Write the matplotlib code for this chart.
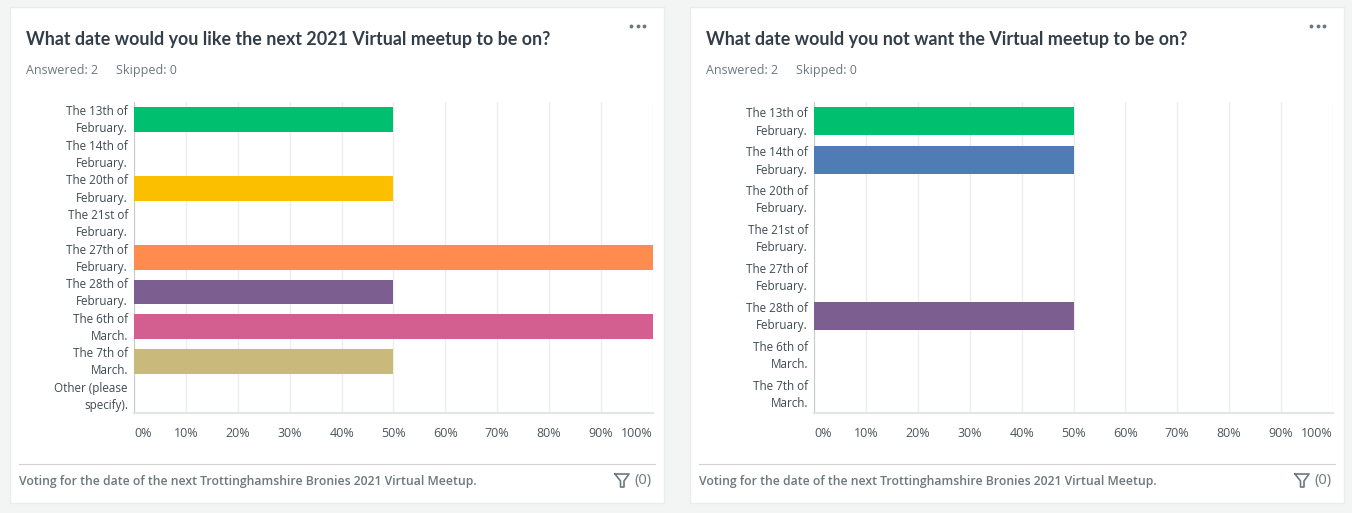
import matplotlib
matplotlib.use("Agg")
import matplotlib.pyplot as plt
from matplotlib.patches import Rectangle
from matplotlib.transforms import ScaledTranslation

W, H = 1352, 513

# left chart
left_title = "What date would you like the next 2021 Virtual meetup to be on?"
left_labels = ["The 13th of\nFebruary.", "The 14th of\nFebruary.", "The 20th of\nFebruary.",
               "The 21st of\nFebruary.", "The 27th of\nFebruary.", "The 28th of\nFebruary.",
               "The 6th of\nMarch.", "The 7th of\nMarch.", "Other (please\nspecify)."]
left_values = [50, 0, 50, 0, 100, 50, 100, 50, 0]
left_colors = ["#00bf6f", "#507cb6", "#fbbf00", "#6bc8cd", "#ff8b4f", "#7d5e90", "#d25f90", "#c9b97a", "#a0a0a0"]

# right chart
right_title = "What date would you not want the Virtual meetup to be on?"
right_labels = left_labels[:8]
right_values = [50, 50, 0, 0, 0, 50, 0, 0]
right_colors = left_colors[:8]

answered = "Answered: 2"
skipped = "Skipped: 0"
footer = "Voting for the date of the next Trottinghamshire Bronies 2021 Virtual Meetup."
xticks = list(range(0, 101, 10))

FONT = "Open Sans"
TITLE_FONT = "Lato"
DARK = "#333e48"
GREY = "#6b787f"


def add_axes_px(fig, x0, y0, x1, y1):
    # pixel box, y counted from the top
    return fig.add_axes([x0 / W, 1 - y1 / H, (x1 - x0) / W, (y1 - y0) / H])


def draw_chrome(bg, dx, title):
    bg.add_patch(Rectangle((10 + dx, 7), 654, 496, fc="white", ec="#e9ecec", lw=1))
    bg.text(26 + dx, 39.5, title, fontsize=12.85, fontweight="bold", color=DARK, va="center", family=TITLE_FONT)
    bg.text(26 + dx, 70.5, answered, fontsize=9, color=GREY, va="center", family=FONT)
    bg.text(116 + dx, 70.5, skipped, fontsize=9, color=GREY, va="center", family=FONT)
    for px in (631, 637.5, 644):
        bg.plot(px + dx, 26, "o", ms=2.8, color="#6b787f", mew=0)
    bg.plot([19 + dx, 655 + dx], [463.5, 463.5], color="#d0d2d3", lw=0.8)
    bg.text(19 + dx, 481.5, footer, fontsize=8.85, fontweight="semibold", color=GREY, va="center", family=FONT)
    # filter funnel icon
    bg.plot(
        [615 + dx, 629 + dx, 624 + dx, 624 + dx, 620.5 + dx, 620.5 + dx, 615 + dx],
        [474, 474, 481, 487, 487, 481, 474],
        color=GREY, lw=1.2,
    )
    bg.text(634 + dx, 480.5, "(0)", fontsize=10.5, color=GREY, va="center", family=FONT)


def draw_bars(fig, dx, labels, values, colors, bar_h):
    ax = add_axes_px(fig, 134.2 + dx, 102, 652.8 + dx, 413)
    pos = list(range(len(labels)))
    ax.barh(pos, values, height=bar_h, color=colors, zorder=3)
    ax.set_xlim(0, 100)
    ax.set_ylim(len(labels) - 0.5, -0.5)
    ax.set_xticks(xticks)
    ax.set_xticklabels([f"{t}%" for t in xticks], fontsize=9, color="#4a555c", family=FONT)
    ax.set_yticks(pos)
    ax.set_yticklabels(labels, fontsize=8.4, color="#3f4a52", family=FONT, linespacing=1.42, ha="right")
    ax.tick_params(axis="both", length=0)
    ax.tick_params(axis="x", pad=10)
    ax.tick_params(axis="y", pad=4.5)
    ticks = ax.get_xticklabels()
    ticks[0].set_ha("left")
    ticks[-1].set_ha("right")
    # nudge the two line labels up so they sit on the bar centre
    nudge = ScaledTranslation(0, 2.5 / 100, fig.dpi_scale_trans)
    for lab in ax.get_yticklabels():
        lab.set_transform(lab.get_transform() + nudge)
    ax.grid(axis="x", color="#eeeeee", lw=1, zorder=0)
    ax.set_axisbelow(True)
    for side in ("top", "right"):
        ax.spines[side].set_visible(False)
    ax.spines["left"].set_color("#c8cbcc")
    ax.spines["bottom"].set_color("#e3e4e5")
    ax.spines["bottom"].set_linewidth(1.6)
    return ax


fig = plt.figure(figsize=(W / 100, H / 100), dpi=100, facecolor="#f3f5f5")
bg = fig.add_axes([0, 0, 1, 1])
bg.set_xlim(0, W)
bg.set_ylim(H, 0)
bg.axis("off")

draw_chrome(bg, 0, left_title)
draw_chrome(bg, 680, right_title)
draw_bars(fig, 0, left_labels, left_values, left_colors, 0.72)
draw_bars(fig, 680, right_labels, right_values, right_colors, 0.72)

fig.savefig("out.png", dpi=100)
